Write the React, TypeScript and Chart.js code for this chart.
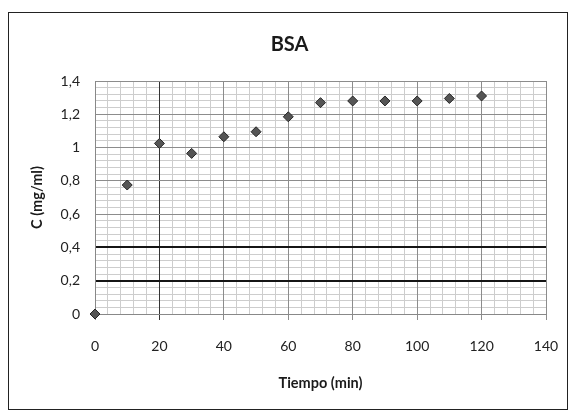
import React, { useEffect, useRef } from 'react';
import { Chart, registerables } from 'chart.js';

Chart.register(...registerables);

const chartTitle = 'BSA';
const xAxisTitle = 'Tiempo (min)';
const yAxisTitle = 'C (mg/ml)';
const timeMin = [0, 10, 20, 30, 40, 50, 60, 70, 80, 90, 100, 110, 120];
const concentration = [0, 0.775, 1.025, 0.965, 1.065, 1.095, 1.185, 1.27, 1.28, 1.28, 1.28, 1.295, 1.31];
const xMin = 0;
const xMax = 140;
const xMajorStep = 20;
const xMinorStep = 4;
const yMin = 0;
const yMax = 1.4;
const yMajorStep = 0.2;
const yMinorStep = 0.04;

const FONT = 'Lato, "Open Sans", sans-serif';

export default function App() {
  const canvasRef = useRef<HTMLCanvasElement | null>(null);

  useEffect(() => {
    const canvas = canvasRef.current;
    if (!canvas) return;
    const points = timeMin.map((t, i) => ({ x: t, y: concentration[i] }));
    const chart = new Chart(canvas, {
      type: 'scatter',
      data: {
        datasets: [
          {
            data: points,
            pointStyle: 'rectRot',
            pointRadius: 5,
            pointBackgroundColor: '#555',
            pointBorderColor: '#262626',
            pointBorderWidth: 1,
            showLine: false,
            clip: false as any,
          },
        ],
      },
      options: {
        animation: false,
        responsive: false,
        devicePixelRatio: 1,
        layout: { padding: { left: 8, right: 0, top: 12, bottom: 12 } },
        plugins: {
          legend: { display: false },
          tooltip: { enabled: false },
          title: {
            display: true,
            text: chartTitle,
            color: '#1a1a1a',
            font: { family: FONT, size: 20, weight: 'bold' },
            padding: { top: 21, bottom: 24 },
          },
        },
        scales: {
          x: {
            type: 'linear',
            position: 'bottom',
            min: xMin,
            max: xMax,
            afterFit: (s: any) => {
              s.height = 86;
              s.paddingLeft = 0;
              s.paddingRight = 0;
            },
            ticks: {
              stepSize: xMajorStep,
              color: '#222',
              font: { family: FONT, size: 14 },
              padding: 18,
              maxRotation: 0,
            },
            grid: {
              z: -1,
              drawTicks: true,
              tickLength: 6,
              color: (ctx: any) => (ctx.tick && ctx.tick.value === 20 ? '#333' : '#8c8c8c'),
              lineWidth: 1,
            },
            border: { display: true, color: '#888' },
            title: {
              display: true,
              text: xAxisTitle,
              color: '#1a1a1a',
              font: { family: FONT, size: 14.5, weight: 'bold' },
              padding: { top: 0, bottom: 8 },
            },
          },
          xMinor: {
            type: 'linear',
            position: 'bottom',
            min: xMin,
            max: xMax,
            afterFit: (s: any) => {
              s.height = 0;
              s.paddingLeft = 0;
              s.paddingRight = 0;
            },
            ticks: { display: false, stepSize: xMinorStep },
            grid: { z: -2, drawTicks: false, color: '#cdcdcd', lineWidth: 1 },
            border: { display: false },
          },
          y: {
            type: 'linear',
            position: 'left',
            min: yMin,
            max: yMax,
            afterFit: (s: any) => {
              s.width = 87;
            },
            ticks: {
              stepSize: yMajorStep,
              color: '#222',
              font: { family: FONT, size: 14 },
              padding: 15,
              callback: (v: any) => String(Math.round(Number(v) * 10) / 10).replace('.', ','),
            },
            grid: {
              z: -1,
              drawTicks: false,
              color: (ctx: any) => {
                const v = ctx.tick ? Math.round(ctx.tick.value * 10) / 10 : -1;
                return v === 0.2 || v === 0.4 ? '#151515' : '#8c8c8c';
              },
              lineWidth: (ctx: any) => {
                const v = ctx.tick ? Math.round(ctx.tick.value * 10) / 10 : -1;
                return v === 0.2 || v === 0.4 ? 2 : 1;
              },
            },
            border: { display: true, color: '#888' },
            title: {
              display: true,
              text: yAxisTitle,
              color: '#1a1a1a',
              font: { family: FONT, size: 14.5, weight: 'bold' },
              padding: { top: 21, bottom: 0 },
            },
          },
          yMinor: {
            type: 'linear',
            position: 'left',
            min: yMin,
            max: yMax,
            afterFit: (s: any) => {
              s.width = 0;
            },
            ticks: { display: false, stepSize: yMinorStep },
            grid: { z: -2, drawTicks: false, color: '#cdcdcd', lineWidth: 1 },
            border: { display: false },
          },
          ySpacer: {
            type: 'linear',
            position: 'right',
            min: yMin,
            max: yMax,
            afterFit: (s: any) => {
              s.width = 25;
            },
            ticks: { display: false },
            grid: { display: false, drawTicks: false },
            border: { display: false },
          },
        },
      } as any,
    });
    return () => chart.destroy();
  }, []);

  return (
    <div style={{ position: 'fixed', left: 0, top: 0, width: 571, height: 412, background: '#fff' }}>
      <div
        style={{
          position: 'absolute',
          left: 8,
          top: 12,
          width: 560,
          height: 398,
          border: '1.5px solid #222',
          boxSizing: 'border-box',
        }}
      />
      <canvas
        ref={canvasRef}
        width={571}
        height={412}
        style={{ position: 'absolute', left: 0, top: 0, width: 571, height: 412 }}
      />
    </div>
  );
}
